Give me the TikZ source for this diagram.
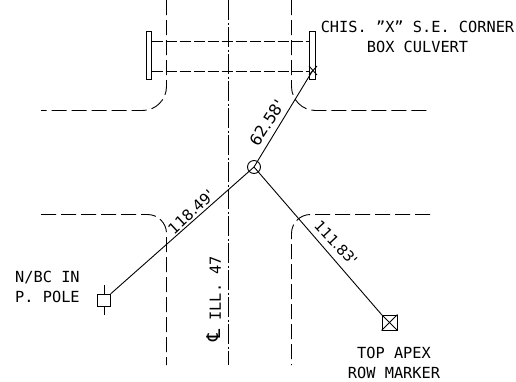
\documentclass[tikz,border=0pt]{standalone}
\usepackage{fontspec}
\setmainfont{DejaVu Sans Mono}
\newfontfamily\symfont{DejaVu Sans}
\tikzset{
  roadedge/.style={line width=0.9pt,dash pattern=on 15pt off 5pt},
  centerline/.style={line width=0.9pt,dash pattern=on 20pt off 2.5pt on 2pt off 2.5pt},
  culvert/.style={line width=0.9pt,dash pattern=on 11pt off 3pt},
  tie/.style={line width=0.9pt},
  label/.style={font=\fontsize{15.3}{20}\selectfont,inner sep=0pt,align=center},
  dim/.style={inner sep=0pt},
  headwall/.style={draw,line width=0.9pt,minimum width=5.5pt,minimum height=48pt,inner sep=0pt},
}
\begin{document}
\begin{tikzpicture}[x=1pt,y=-1pt]
    \useasboundingbox (0,0) rectangle (516,381);
    % road
    \draw[centerline] (228.5,0) -- (228.5,365);
    \draw[roadedge,rounded corners=24pt] (166.5,0) -- (166.5,110.5) -- (41,110.5);
    \draw[roadedge,rounded corners=24pt] (291.5,0) -- (291.5,110.5) -- (430,110.5);
    \draw[roadedge,rounded corners=19pt] (41,214.5) -- (166.5,214.5) -- (166.5,365);
    \draw[roadedge,rounded corners=19pt] (430,214.5) -- (291.5,214.5) -- (291.5,365);
    % culvert
    \node[headwall] (wallw) at (148.8,55) {};
    \node[headwall] (walle) at (312.2,55) {};
    \coordinate (nwtop) at (151.5,41.5);
    \coordinate (netop) at (309.5,41.5);
    \coordinate (nwbot) at (151.5,71.5);
    \coordinate (nebot) at (309.5,71.5);
    \draw[culvert] (nwtop) -- (netop);
    \draw[culvert] (nwbot) -- (nebot);
    % ties
    \node[draw,circle,tie,minimum size=13pt,inner sep=0pt] (apex) at (254,167) {};
    \node[draw,tie,minimum size=12.5pt,inner sep=0pt] (pole) at (104,300.5) {};
    \node[draw,tie,minimum size=15pt,inner sep=0pt] (marker) at (389.5,322.5) {};
    \coordinate (corner) at (313,70);
    \coordinate (polen) at (104,285);
    \coordinate (poles) at (104,315);
    \draw[tie] (apex.center) -- (corner);
    \draw[tie] (apex.center) -- (pole.north east);
    \draw[tie] (apex.center) -- (marker.north west);
    \draw[tie] (polen) -- (pole.north);
    \draw[tie] (pole.south) -- (poles);
    \draw[tie] (marker.north west) -- (marker.south east);
    \draw[tie] (marker.south west) -- (marker.north east);
    \draw[tie] (309,66) -- (317,75);
    \draw[tie] (317,66) -- (309,75);
    % labels
    \node[label] (chis) at (417.5,37) {CHIS. ''X'' S.E. CORNER\\BOX CULVERT};
    \node[label,align=left,anchor=west] (nbc) at (15,287) {N/BC IN\\P. POLE};
    \node[label] (apexlbl) at (394,363) {TOP APEX\\ROW MARKER};
    \node[label,rotate=90] (cl) at (214,299) {{\symfont\fontsize{19}{20}\selectfont ℄} ILL. 47};
    \node[dim,rotate=57,font=\symfont\fontsize{16}{18}\selectfont] (d1) at (267,123) {62.58'};
    \node[dim,rotate=43,font=\symfont\fontsize{15}{18}\selectfont] (d2) at (191,212) {118.49'};
    \node[dim,rotate=-47,font=\symfont\fontsize{14.5}{18}\selectfont] (d3) at (336,243) {111.83'};
\end{tikzpicture}
\end{document}
